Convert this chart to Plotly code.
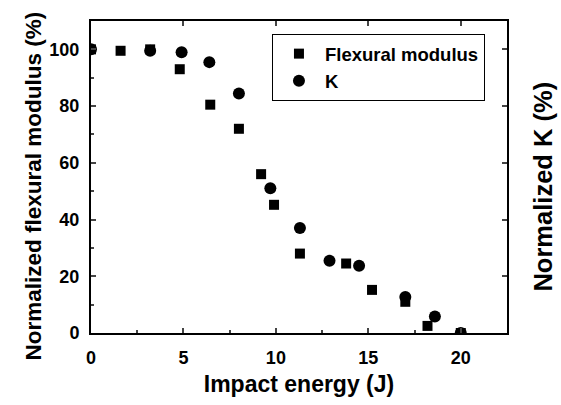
import plotly.graph_objects as go

# Data
flex_x = [0, 1.6, 3.2, 4.8, 6.45, 8.0, 9.2, 9.9, 11.3, 13.8, 15.2, 17.0, 18.2, 20.0]
flex_y = [100, 99.5, 100, 93, 80.5, 72, 56, 45.2, 28, 24.5, 15.2, 11, 2.5, 0]
k_x = [0, 3.2, 4.9, 6.4, 8.0, 9.7, 11.3, 12.9, 14.5, 17.0, 18.6, 20.0]
k_y = [100, 99.5, 99, 95.5, 84.4, 51, 37, 25.5, 23.7, 12.7, 5.8, 0]

x_ticks = [0, 5, 10, 15, 20]
y_ticks = [0, 20, 40, 60, 80, 100]

FONT = "Liberation Sans"

fig = go.Figure()
fig.add_trace(go.Scatter(x=flex_x, y=flex_y, mode="markers", name="Flexural modulus",
                         cliponaxis=True,
                         marker=dict(symbol="square", size=10, color="black")))
fig.add_trace(go.Scatter(x=k_x, y=k_y, mode="markers", name="K",
                         cliponaxis=True,
                         marker=dict(symbol="circle", size=12, color="black")))
# invisible trace bound to overlay axes so they render
fig.add_trace(go.Scatter(x=[None], y=[None], xaxis="x2", yaxis="y2", showlegend=False,
                         hoverinfo="skip"))

fig.update_layout(
    width=561, height=405,
    margin=dict(l=91, r=54, t=21, b=67),
    paper_bgcolor="white", plot_bgcolor="white",
    font=dict(family=FONT, color="black", weight="bold"),
    xaxis=dict(range=[0, 22.5], tickvals=x_ticks, ticks="inside", ticklen=5, tickwidth=1.5,
               minor=dict(tickvals=[2.5, 7.5, 12.5, 17.5], ticks="inside", ticklen=3, tickwidth=1.5),
               showgrid=False, zeroline=False, showline=True, linewidth=2, linecolor="black",
               tickfont=dict(size=18, family=FONT, weight="bold"), ticklabelstandoff=7,
               title=dict(text="Impact energy (J)", font=dict(size=23, family=FONT, weight="bold"),
                          standoff=9)),
    yaxis=dict(range=[0, 110], tickvals=y_ticks, ticks="inside", ticklen=5, tickwidth=1.5,
               minor=dict(tickvals=[10, 30, 50, 70, 90], ticks="inside", ticklen=3, tickwidth=1.5),
               showgrid=False, zeroline=False, showline=True, linewidth=2, linecolor="black",
               tickfont=dict(size=18, family=FONT, weight="bold"), ticklabelstandoff=6),
    xaxis2=dict(overlaying="x", side="top", range=[0, 22.5], tickvals=x_ticks, ticks="inside",
                ticklen=5, tickwidth=1.5, showticklabels=False, showgrid=False, zeroline=False,
                showline=True, linewidth=2, linecolor="black"),
    yaxis2=dict(overlaying="y", side="right", range=[0, 110], tickvals=y_ticks, ticks="inside",
                ticklen=5, tickwidth=1.5, showticklabels=False, showgrid=False, zeroline=False,
                showline=True, linewidth=2, linecolor="black"),
    legend=dict(x=0.435, y=0.958, xanchor="left", yanchor="top", bordercolor="black",
                borderwidth=1, bgcolor="white", font=dict(size=18.5, family=FONT, weight="bold"),
                tracegroupgap=0, itemwidth=42),
    showlegend=True,
    annotations=[
        dict(text="Normalized flexural modulus (%)", textangle=-90, xref="paper", yref="paper",
             x=-0.139, y=0.47, xanchor="center", yanchor="middle", showarrow=False,
             font=dict(size=22.5, family=FONT, weight="bold")),
        dict(text="Normalized K (%)", textangle=-90, xref="paper", yref="paper",
             x=1.087, y=0.47, xanchor="center", yanchor="middle", showarrow=False,
             font=dict(size=25.5, family=FONT, weight="bold")),
    ],
)

fig.write_html("out.html")
